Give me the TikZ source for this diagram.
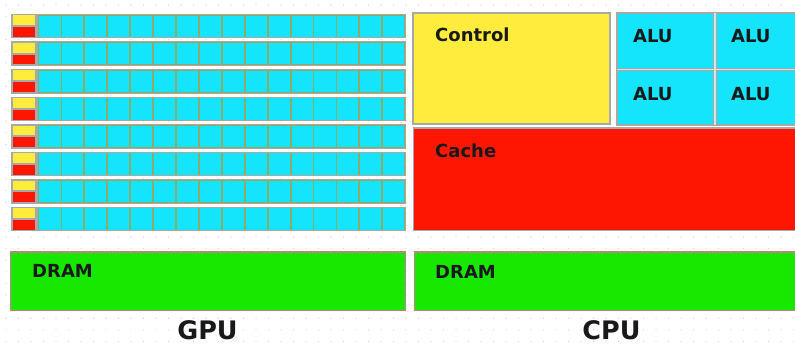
\documentclass[tikz,border=0pt]{standalone}
\usepackage{fontspec}
\setmainfont{DejaVu Sans}
\definecolor{cellcyan}{RGB}{20,228,252}
\definecolor{ctlyellow}{RGB}{255,236,60}
\definecolor{cachered}{RGB}{255,22,0}
\definecolor{dramgreen}{RGB}{24,232,0}
\definecolor{framegrey}{RGB}{168,168,168}
\definecolor{sepolive}{RGB}{140,170,105}
\definecolor{dotgrey}{RGB}{205,205,205}
\definecolor{dramedge}{RGB}{190,130,130}
\begin{document}
\begin{tikzpicture}[x=1pt,y=-1pt,
  lbl/.style={font=\bfseries\fontsize{18}{20}\selectfont, text=black!90, inner sep=0pt, anchor=base west},
  title/.style={font=\bfseries\fontsize{25.5}{28}\selectfont, text=black!90, inner sep=0pt, anchor=base}]
\useasboundingbox (0,0) rectangle (795,345);
\fill[white] (0,0) rectangle (795,345);
% faint dotted background
\foreach \i in {0,...,63}
  \foreach \j in {0,...,29}
    \fill[dotgrey] (\i*12.5+6,\j*11.6+5) circle (0.55);

% GPU: eight rows, each a control/cache cell followed by sixteen ALUs
\foreach \r in {0,...,7} {
  \pgfmathsetmacro\t{14+27.5*\r}
  \fill[framegrey] (11,\t) rectangle (405.5,\t+24.5);
  \fill[sepolive] (38,\t+1) rectangle (404.5,\t+23.5);
  \fill[ctlyellow] (13,\t+1.5) rectangle (35,\t+11.2);
  \fill[cachered] (13,\t+13.3) rectangle (35,\t+23);
  \foreach \c in {0,...,15}
    \fill[cellcyan] (38.6+\c*22.92+0.8,\t+1.6) rectangle (38.6+\c*22.92+21.9,\t+23);
}

% CPU: control block
\fill[framegrey] (411.5,12) rectangle (611,125);
\fill[ctlyellow] (414,14.5) rectangle (609,122.5);
\node[lbl] (ctl) at (435,42) {Control};

% CPU: four ALUs
\fill[framegrey] (616,12) rectangle (795,126);
\fill[black!12] (714,13) rectangle (716,125);
\fill[black!12] (617,69) rectangle (795,70.5);
\fill[cellcyan] (618,14) rectangle (712.5,68);
\fill[cellcyan] (716.5,14) rectangle (795,68);
\fill[cellcyan] (618,71.5) rectangle (712.5,124);
\fill[cellcyan] (716.5,71.5) rectangle (795,124);
\node[lbl] (alua) at (633,43) {ALU};
\node[lbl] (alub) at (731,43) {ALU};
\node[lbl] (aluc) at (633,100) {ALU};
\node[lbl] (alud) at (731,100) {ALU};

% CPU: cache
\fill[framegrey] (412.5,127) rectangle (795,231);
\fill[cachered] (413.5,128.5) rectangle (795,229.5);
\node[lbl] (cache) at (435,157) {Cache};

% DRAM for both
\fill[dramedge] (10,251) rectangle (405.5,310.5);
\fill[dramgreen] (11,252.5) rectangle (404.5,309.5);
\node[lbl] (gdram) at (32,277) {DRAM};
\fill[dramedge] (413.5,251) rectangle (795,310.5);
\fill[dramgreen] (414.5,252.5) rectangle (795,309.5);
\node[lbl] (cdram) at (435,278) {DRAM};

% captions
\node[title] (gpu) at (207.5,339) {GPU};
\node[title] (cpu) at (611.5,339.5) {CPU};
\end{tikzpicture}
\end{document}
